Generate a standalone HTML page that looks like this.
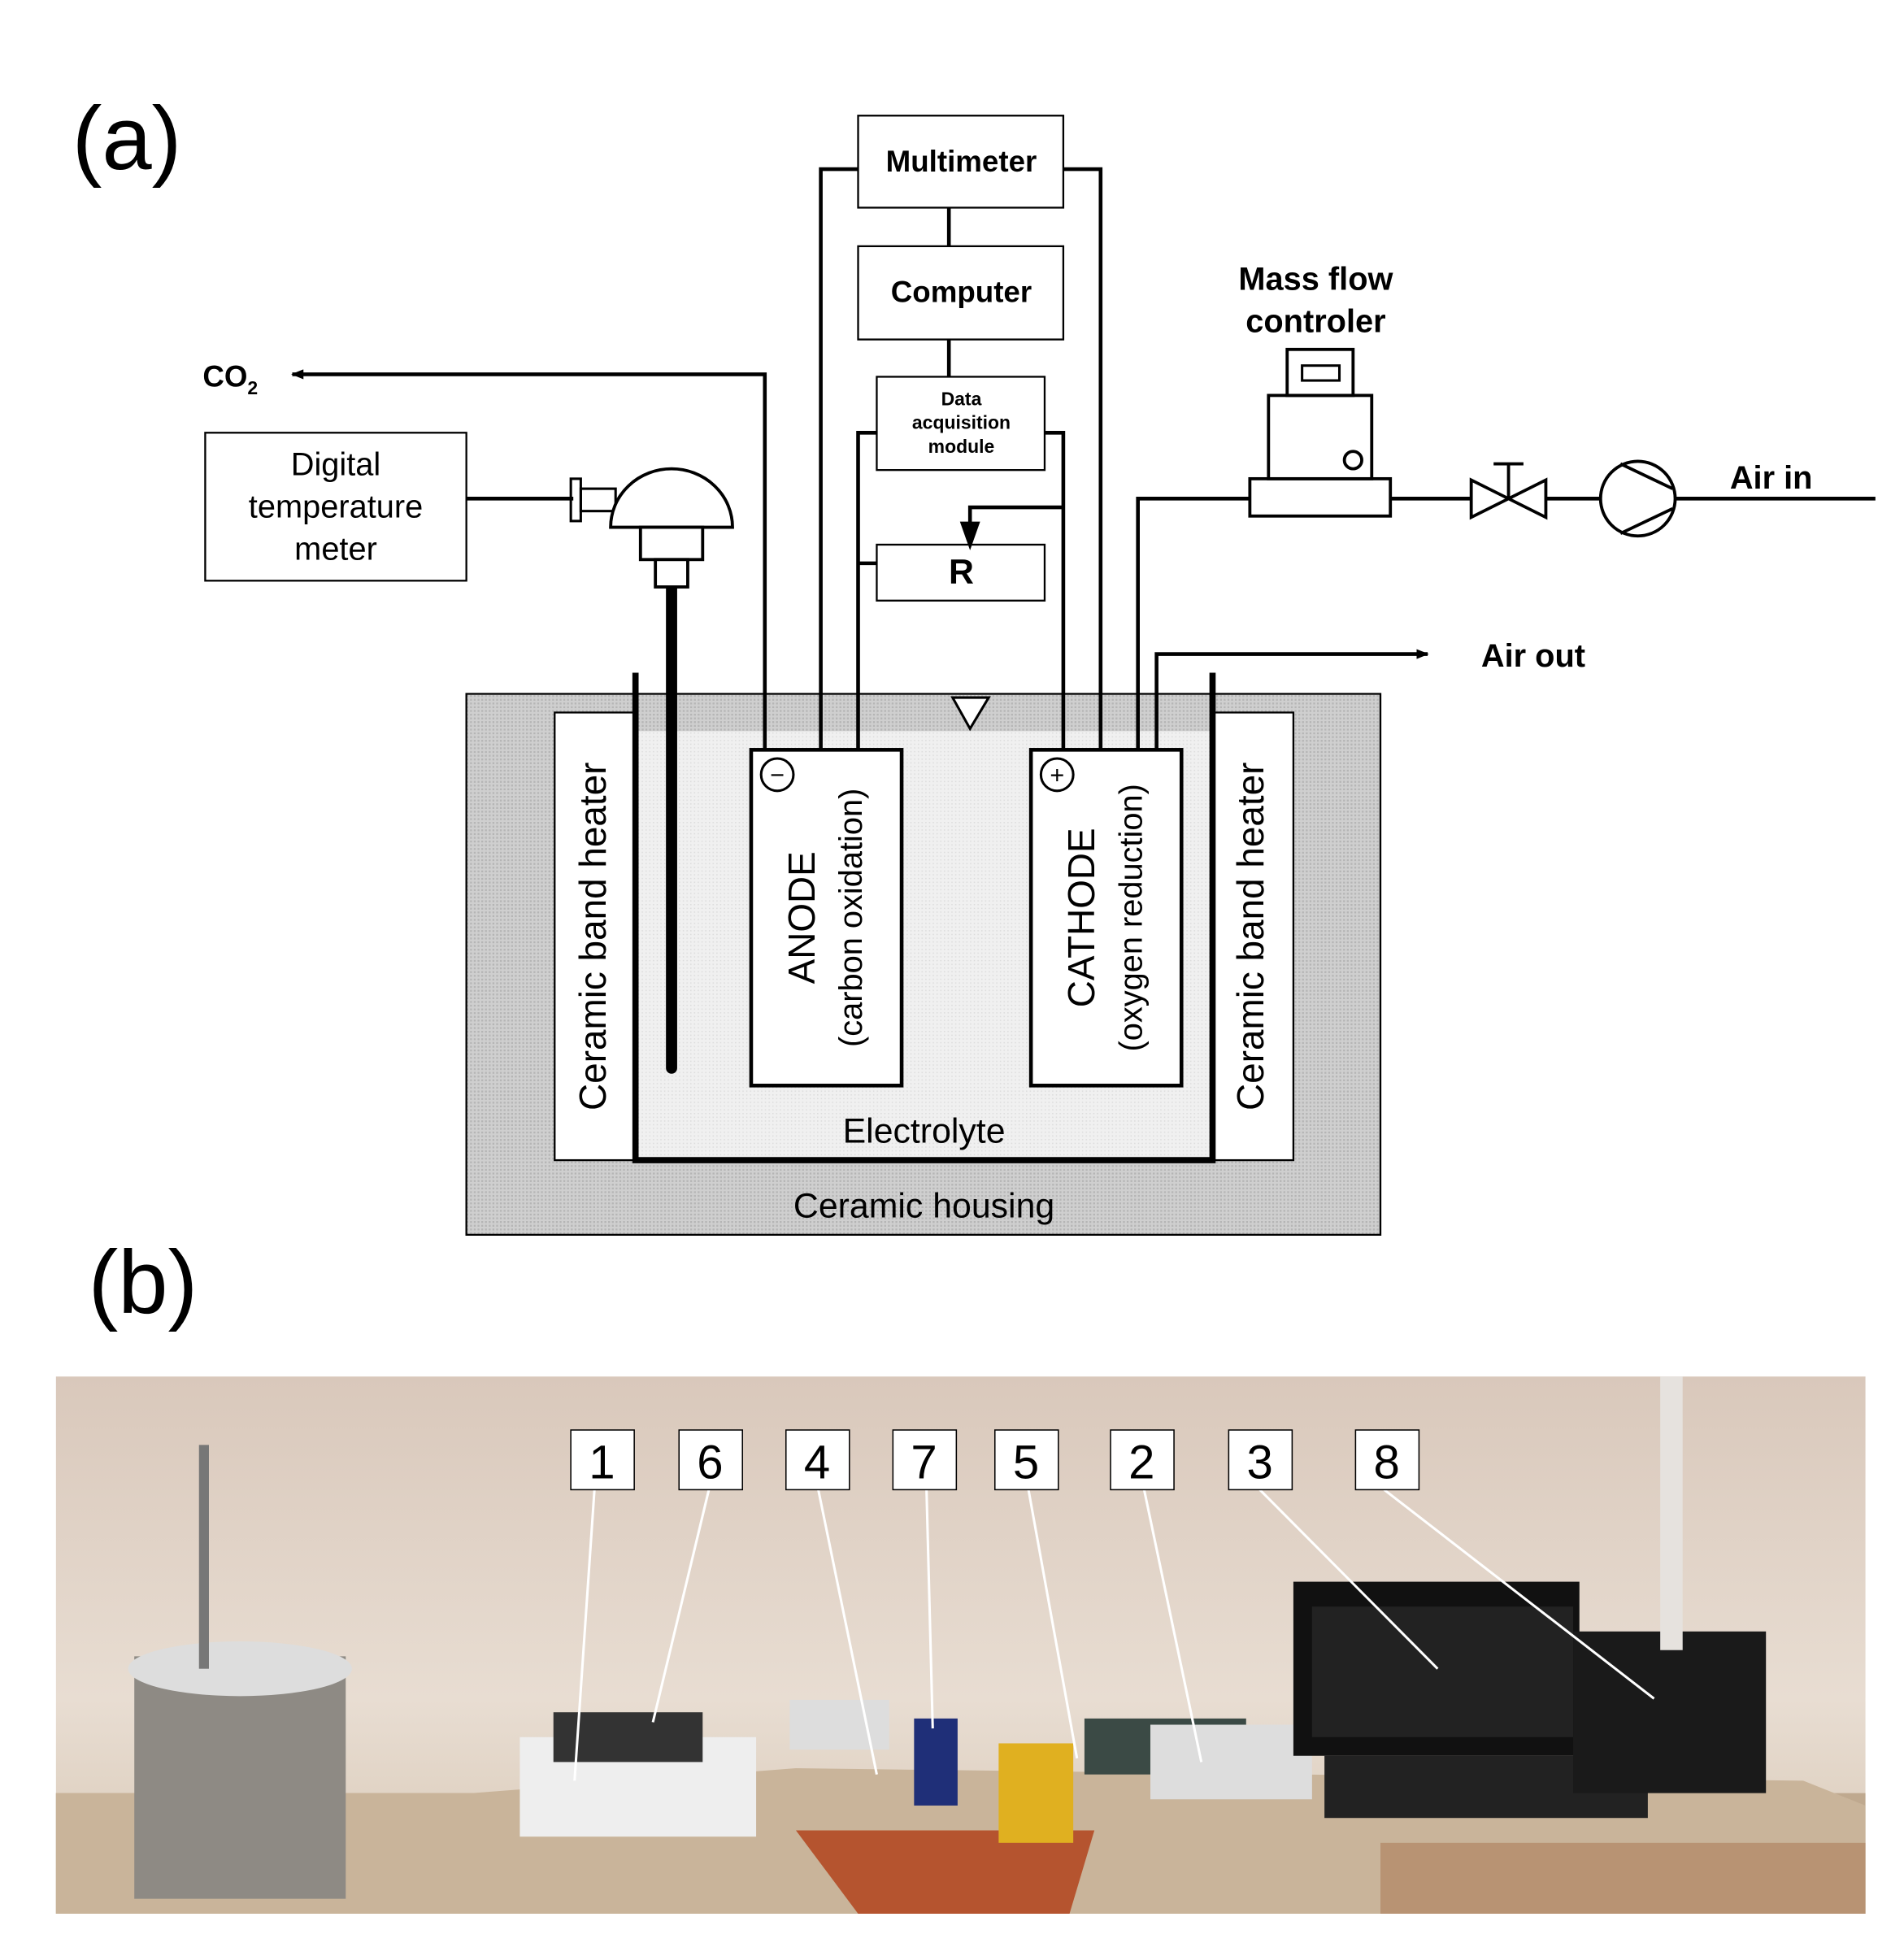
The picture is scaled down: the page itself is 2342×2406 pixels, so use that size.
<!DOCTYPE html>
<html><head><meta charset="utf-8"><style>html,body{margin:0;padding:0;background:#fff}svg{display:block}</style></head><body>
<svg width="2342" height="2406" viewBox="0 0 1531 1573" preserveAspectRatio="none" xmlns="http://www.w3.org/2000/svg" font-family="Liberation Sans, sans-serif">
<defs>
<pattern id="h" width="3" height="3" patternUnits="userSpaceOnUse"><rect width="3" height="3" fill="#cfcfcf"/><rect width="1.5" height="1.5" fill="#b5b5b5"/></pattern>
<pattern id="e" width="3" height="3" patternUnits="userSpaceOnUse"><rect width="3" height="3" fill="#f0f0f0"/><rect width="1" height="1" fill="#dcdcdc"/></pattern>
<marker id="ar" markerWidth="10" markerHeight="8" refX="9" refY="4" orient="auto" markerUnits="userSpaceOnUse"><path d="M0,0L22,4L0,8z" transform="scale(0.45,1)" fill="#000"/></marker>
<linearGradient id="wall" x1="0" y1="0" x2="0" y2="1"><stop offset="0" stop-color="#d9c8bb"/><stop offset="0.6" stop-color="#e8ddd2"/><stop offset="1" stop-color="#d8c8b5"/></linearGradient>
</defs>
<g transform="translate(3,1)">
<text x="55" y="135" font-size="72">(a)</text>
<text x="68" y="1055" font-size="72">(b)</text>
<g fill="none" stroke="#000" stroke-width="3">
<rect x="372" y="557" width="735" height="435" fill="url(#h)" stroke-width="1.5"/>
<rect x="443" y="572" width="65" height="360" fill="#fff" stroke-width="1.5"/>
<rect x="972" y="572" width="65" height="360" fill="#fff" stroke-width="1.5"/>
<rect x="508" y="587" width="464" height="345" fill="url(#e)" stroke="none"/>
<path d="M508 540V932H972V540" stroke-width="5"/>
<rect x="601" y="602" width="121" height="270" fill="#fff"/>
<rect x="826" y="602" width="121" height="270" fill="#fff"/>
<line x1="537" y1="470" x2="537" y2="858" stroke-width="9" stroke-linecap="round"/>
<path d="M763 560H792L777 585Z" stroke-width="2" fill="#fff"/>
<rect x="687" y="92" width="165" height="74" stroke-width="1.5"/>
<rect x="687" y="197" width="165" height="75" stroke-width="1.5"/>
<rect x="702" y="302" width="135" height="75" stroke-width="1.5"/>
<rect x="702" y="437" width="135" height="45" stroke-width="1.5"/>
<rect x="162" y="347" width="210" height="119" stroke-width="1.5"/>
<path d="M760 166V197M760 272V302"/>
<path d="M687 135H657V602M852 135H882V602"/>
<path d="M702 347H687V602M687 452H702M837 347H852V602"/>
<path d="M852 407H777V425"/>
<path d="M771 420L777 437L783 420Z" fill="#000"/>
<path d="M612 602V300H232" marker-end="url(#ar)"/>
<path d="M927 602V525H1145" marker-end="url(#ar)"/>
<path d="M912 602V400H1002M1115 400H1180M1240 400H1284M1344 400H1505"/>
<path d="M372 400H458"/>
<rect x="456" y="384" width="8" height="34" stroke-width="2"/>
<rect x="464" y="392" width="28" height="18" stroke-width="2"/>
<path d="M488 423A49 47 0 0 1 586 423Z" stroke-width="2.5" fill="#fff"/>
<rect x="512" y="423" width="50" height="26" stroke-width="2.5" fill="#fff"/>
<rect x="524" y="449" width="26" height="22" stroke-width="2.5" fill="#fff"/>
<rect x="1002" y="384" width="113" height="30" stroke-width="2.5"/>
<rect x="1017" y="317" width="83" height="67" stroke-width="2.5"/>
<rect x="1032" y="280" width="53" height="37" stroke-width="2.5"/>
<rect x="1044" y="293" width="30" height="12" stroke-width="2"/>
<circle cx="1085" cy="369" r="7" stroke-width="2.5"/>
<path d="M1180 385V415L1240 385V415Z" stroke-width="2.5"/>
<path d="M1210 400V372M1198 372H1222" stroke-width="2.5"/>
<circle cx="1314" cy="400" r="30" stroke-width="2.5"/>
<path d="M1300 372L1342 392M1300 428L1342 408" stroke-width="2.5"/>
<circle cx="622" cy="622" r="13" stroke-width="2"/>
<circle cx="847" cy="622" r="13" stroke-width="2"/>
</g>
<g font-size="24" text-anchor="middle">
<text x="770" y="137" font-weight="bold">Multimeter</text>
<text x="770" y="242" font-weight="bold">Computer</text>
<text x="770" y="325" font-size="15" font-weight="bold">Data</text>
<text x="770" y="344" font-size="15" font-weight="bold">acquisition</text>
<text x="770" y="363" font-size="15" font-weight="bold">module</text>
<text x="770" y="468" font-size="28" font-weight="bold">R</text>
<text x="267" y="381" font-size="26">Digital</text>
<text x="267" y="415" font-size="26">temperature</text>
<text x="267" y="449" font-size="26">meter</text>
<text x="1055" y="232" font-size="26" font-weight="bold">Mass flow</text>
<text x="1055" y="266" font-size="26" font-weight="bold">controler</text>
<text x="740" y="918" font-size="28">Electrolyte</text>
<text x="740" y="978" font-size="28">Ceramic housing</text>
<text x="622" y="629" font-size="20">−</text>
<text x="847" y="629" font-size="20">+</text>
</g>
<text x="160" y="310" font-size="24" font-weight="bold">CO<tspan font-size="15" dy="6">2</tspan></text>
<text x="1388" y="392" font-size="26" font-weight="bold">Air in</text>
<text x="1188" y="535" font-size="26" font-weight="bold">Air out</text>
<g font-size="30" text-anchor="middle">
<text transform="translate(484,752) rotate(-90)">Ceramic band heater</text>
<text transform="translate(1013,752) rotate(-90)">Ceramic band heater</text>
<text transform="translate(652,737) rotate(-90)">ANODE</text>
<text transform="translate(690,737) rotate(-90)" font-size="26">(carbon oxidation)</text>
<text transform="translate(877,737) rotate(-90)">CATHODE</text>
<text transform="translate(915,737) rotate(-90)" font-size="26">(oxygen reduction)</text>
</g>
</g>
<g transform="translate(0,2)">
<rect x="45" y="1105" width="1455" height="432" fill="url(#wall)"/>
<rect x="45" y="1440" width="1455" height="97" fill="#bfa98f"/>
<path d="M380 1440L640 1420L1450 1430L1500 1450V1537H45V1440Z" fill="#c9b49a"/>
<path d="M640 1470H880L860 1537H690Z" fill="#b5542f"/>
<rect x="1110" y="1480" width="390" height="57" fill="#b89373"/>
<rect x="108" y="1330" width="170" height="195" fill="#8e8a84"/>
<ellipse cx="193" cy="1340" rx="90" ry="22" fill="#ddd"/>
<rect x="160" y="1160" width="8" height="180" fill="#777"/>
<rect x="418" y="1395" width="190" height="80" fill="#eee"/>
<rect x="445" y="1375" width="120" height="40" fill="#333"/>
<rect x="872" y="1380" width="130" height="45" fill="#3b4a45"/>
<rect x="925" y="1385" width="130" height="60" fill="#ddd"/>
<rect x="1040" y="1270" width="230" height="140" fill="#111"/>
<rect x="1055" y="1290" width="210" height="105" fill="#222"/>
<rect x="1065" y="1410" width="260" height="50" fill="#222"/>
<rect x="1265" y="1310" width="155" height="130" fill="#1a1a1a"/>
<rect x="735" y="1380" width="35" height="70" fill="#1f2f78"/>
<rect x="803" y="1400" width="60" height="80" fill="#e0b020"/>
<rect x="635" y="1365" width="80" height="40" fill="#ddd"/>
<rect x="1335" y="1105" width="18" height="220" fill="#e6e2de"/>
<g stroke="#fff" stroke-width="2">
<path d="M478 1196L462 1430M570 1196L525 1383M658 1196L705 1425M745 1196L750 1388M827 1196L866 1412M920 1196L966 1415M1013 1196L1156 1340M1113 1196L1330 1364"/>
</g>
<g font-size="38" text-anchor="middle" stroke="#000" stroke-width="1">
<rect x="459" y="1148" width="51" height="48" fill="#fff"/><text x="484" y="1187" stroke="none">1</text>
<rect x="546" y="1148" width="51" height="48" fill="#fff"/><text x="571" y="1187" stroke="none">6</text>
<rect x="632" y="1148" width="51" height="48" fill="#fff"/><text x="657" y="1187" stroke="none">4</text>
<rect x="718" y="1148" width="51" height="48" fill="#fff"/><text x="743" y="1187" stroke="none">7</text>
<rect x="800" y="1148" width="51" height="48" fill="#fff"/><text x="825" y="1187" stroke="none">5</text>
<rect x="893" y="1148" width="51" height="48" fill="#fff"/><text x="918" y="1187" stroke="none">2</text>
<rect x="988" y="1148" width="51" height="48" fill="#fff"/><text x="1013" y="1187" stroke="none">3</text>
<rect x="1090" y="1148" width="51" height="48" fill="#fff"/><text x="1115" y="1187" stroke="none">8</text>
</g>
</g>
</svg>
</body></html>
